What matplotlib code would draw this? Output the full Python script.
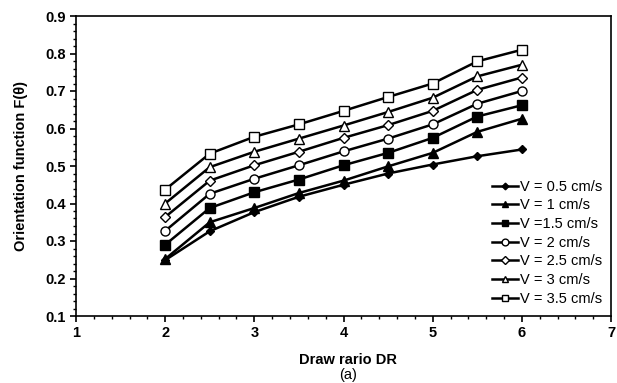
import matplotlib
matplotlib.use("Agg")
import matplotlib.pyplot as plt
from matplotlib.ticker import MultipleLocator

plt.rcParams['font.family'] = ['Liberation Sans', 'DejaVu Sans']

draw_ratio = [2, 2.5, 3, 3.5, 4, 4.5, 5, 5.5, 6]
v05 = [0.249, 0.326, 0.377, 0.418, 0.450, 0.480, 0.504, 0.526, 0.544]
v1 = [0.252, 0.350, 0.388, 0.428, 0.461, 0.499, 0.535, 0.591, 0.626]
v15 = [0.290, 0.388, 0.430, 0.464, 0.502, 0.535, 0.575, 0.632, 0.662]
v2 = [0.327, 0.426, 0.466, 0.502, 0.539, 0.573, 0.611, 0.666, 0.700]
v25 = [0.364, 0.461, 0.502, 0.538, 0.575, 0.609, 0.647, 0.703, 0.736]
v3 = [0.400, 0.497, 0.538, 0.573, 0.608, 0.644, 0.682, 0.739, 0.770]
v35 = [0.437, 0.533, 0.578, 0.611, 0.647, 0.684, 0.720, 0.779, 0.810]

labels = ["V = 0.5 cm/s", "V = 1 cm/s", "V =1.5 cm/s", "V = 2 cm/s",
          "V = 2.5 cm/s", "V = 3 cm/s", "V = 3.5 cm/s"]
series = [v05, v1, v15, v2, v25, v3, v35]
styles = [
    dict(marker='D', ms=4.5, mfc='black'),
    dict(marker='^', ms=6.5, mfc='black'),
    dict(marker='s', ms=6.5, mfc='black'),
    dict(marker='o', ms=6.5, mfc='white'),
    dict(marker='D', ms=5, mfc='white'),
    dict(marker='^', ms=6.5, mfc='white'),
    dict(marker='s', ms=6.5, mfc='white'),
]

fig = plt.figure(figsize=(6.17, 3.83), dpi=100)
ax = fig.add_axes([76/617, 1-316/383, (611-76)/617, (316-16)/383])

for ys, lab, st in zip(series, labels, styles):
    ax.plot(draw_ratio, ys, color='black', lw=1.8, mec='black', mew=1.0,
            label=lab, **st)

ax.set_xlim(1, 7)
ax.set_ylim(0.1, 0.9)
ax.xaxis.set_minor_locator(MultipleLocator(0.2))
ax.yaxis.set_minor_locator(MultipleLocator(0.02))
ax.tick_params(which='major', direction='out', length=4, width=1.2, labelsize=10.5)
ax.tick_params(which='minor', direction='out', length=2.5, width=1)
ax.set_xticks([1, 2, 3, 4, 5, 6, 7])
ax.set_xticklabels(['1', '2', '3', '4', '5', '6', '7'], fontweight='bold')
ax.set_yticks([0.1, 0.2, 0.3, 0.4, 0.5, 0.6, 0.7, 0.8, 0.9])
ax.set_yticklabels(['0.1', '0.2', '0.3', '0.4', '0.5', '0.6', '0.7', '0.8', '0.9'],
                   fontweight='bold')
for sp in ax.spines.values():
    sp.set_linewidth(1.2)

ax.set_ylabel('Orientation function F(θ)', fontsize=10.5, fontweight='bold', labelpad=12)
fig.text(348/617, 1-360/383, 'Draw rario DR', fontsize=10.5, fontweight='bold',
         ha='center', va='center')
fig.text(348/617, 1-375/383, '(a)', fontsize=10.5, ha='center', va='center')

leg = ax.legend(loc='lower right', bbox_to_anchor=(1.0, 0.005), frameon=False,
                fontsize=10.5, handlelength=1.8, handletextpad=0.15,
                labelspacing=0.32, borderaxespad=0.2, markerscale=0.75)

fig.savefig('out.png', dpi=100)
